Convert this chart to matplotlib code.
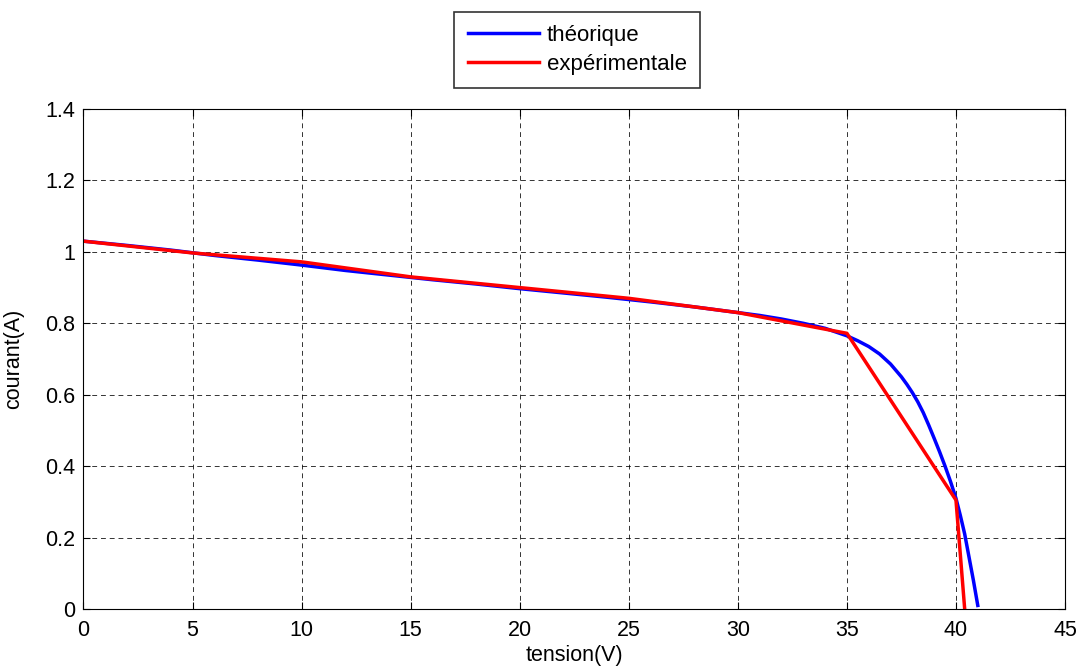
import matplotlib
matplotlib.use("Agg")
import matplotlib.pyplot as plt

plt.rcParams['font.family'] = ['Liberation Sans', 'DejaVu Sans']

# theoretical curve (blue)
v_theo = [0, 2, 4, 6, 8, 10, 12, 14, 16, 18, 20, 22, 24, 26, 28, 30, 31, 32, 33,
          34, 35, 35.5, 36, 36.5, 37, 37.5, 37.75, 38, 38.25, 38.5, 38.75, 39, 39.25,
          39.5, 39.75, 40, 40.2, 40.4, 40.6, 40.8, 41.0]
i_theo = [1.03, 1.018, 1.005, 0.99, 0.977, 0.963, 0.948, 0.935, 0.922, 0.91, 0.897,
          0.885, 0.873, 0.86, 0.846, 0.83, 0.822, 0.812, 0.80, 0.786, 0.765, 0.751,
          0.735, 0.714, 0.686, 0.65, 0.629, 0.606, 0.58, 0.55, 0.515, 0.478, 0.44,
          0.40, 0.357, 0.31, 0.262, 0.21, 0.145, 0.08, 0.01]

# experimental curve (red)
v_exp = [0, 5, 10, 15, 20, 25, 30, 35, 40, 40.4]
i_exp = [1.03, 0.997, 0.972, 0.93, 0.90, 0.87, 0.83, 0.772, 0.305, 0.0]

x_ticks = [0, 5, 10, 15, 20, 25, 30, 35, 40, 45]
y_ticks = [0, 0.2, 0.4, 0.6, 0.8, 1.0, 1.2, 1.4]
y_labels = ['0', '0.2', '0.4', '0.6', '0.8', '1', '1.2', '1.4']

fig = plt.figure(figsize=(10.83, 6.68), dpi=100)
ax = fig.add_axes([0.0771, 0.0883, 0.9063, 0.7485])

ax.plot(v_theo, i_theo, color='#0000ff', lw=2.5, label='théorique')
ax.plot(v_exp, i_exp, color='#ff0000', lw=2.5, label='expérimentale')

ax.set_xlim(0, 45)
ax.set_ylim(0, 1.4)
ax.set_xticks(x_ticks)
ax.set_yticks(y_ticks)
ax.set_yticklabels(y_labels)
ax.tick_params(direction='in', length=5, width=0.8, labelsize=15.5, top=True, right=True,
               colors='black')
ax.tick_params(axis='x', pad=8)
ax.tick_params(axis='y', pad=6)
ax.grid(True, color='black', linestyle=(0, (5, 4)), linewidth=0.7, alpha=0.8)
for s in ax.spines.values():
    s.set_linewidth(0.8)
    s.set_color('black')

ax.set_xlabel('tension(V)', fontsize=15.5, va='center')
ax.set_ylabel('courant(A)', fontsize=15.5, va='center')
ax.xaxis.set_label_coords(0.5, -0.092)
ax.yaxis.set_label_coords(-0.0708, 0.5)

leg = ax.legend(loc='lower center', bbox_to_anchor=(0.503, 1.0 + 21/500), fontsize=16,
                frameon=True, fancybox=False, edgecolor='black', handlelength=3.2,
                borderpad=0.6, labelspacing=0.35, handletextpad=0.35, borderaxespad=0)
leg.get_frame().set_linewidth(1.2)

fig.savefig('out.png', dpi=100)
